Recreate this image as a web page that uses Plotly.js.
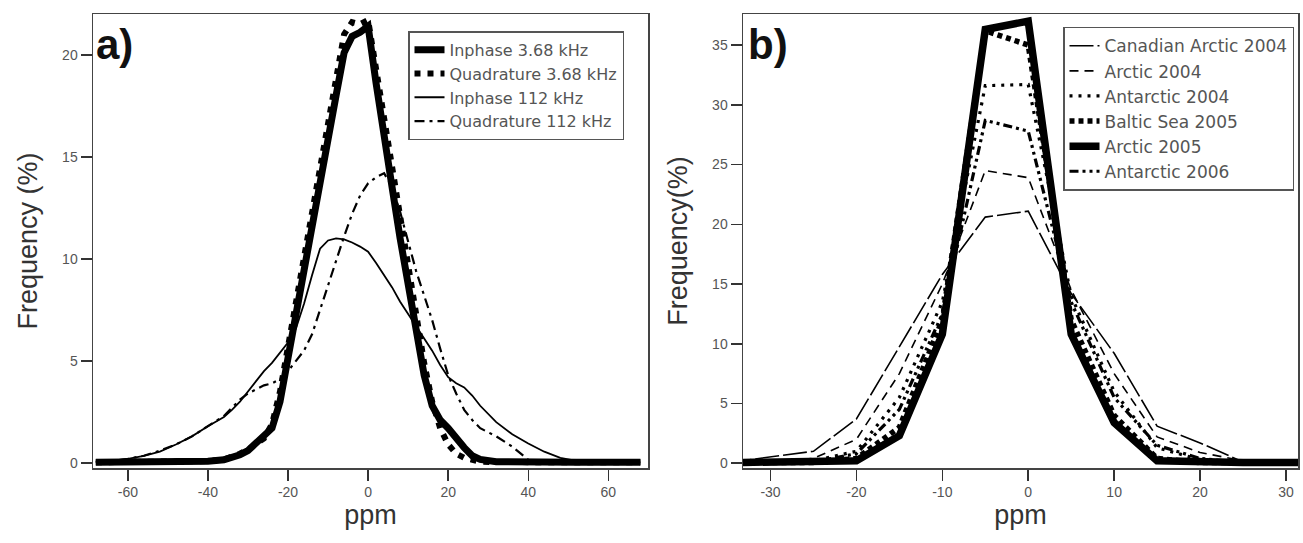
<!DOCTYPE html>
<html>
<head>
<meta charset="utf-8">
<script src="https://cdn.plot.ly/plotly-3.0.1.min.js"></script>
<style>html,body{margin:0;padding:0;background:#fff;}#chart{width:1303px;height:543px;}</style>
</head>
<body>
<div id="chart"></div>
<script>
// ---------- Panel a data (ppm vs frequency %) ----------
const ppmA = [-68,-64,-60,-56,-52,-48,-44,-40,-36,
  -34,-32,-30,-28,-26,-24,-22,-20,-18,-16,-14,-12,-10,-8,-6,-4,-2,0,2,4,6,8,10,12,14,16,18,20,22,24,26,28,
  32,36,40,44,48,52,56,60,64,68];
const inphase368 = [0.03,0.03,0.03,0.03,0.04,0.05,0.06,0.08,0.15,
  0.25,0.4,0.6,0.95,1.25,1.7,3.0,5.2,7.3,9.5,11.6,13.8,15.9,18.0,20.1,20.9,21.1,21.4,18.6,15.8,13.5,11.0,8.8,6.7,4.3,2.8,2.1,1.7,1.2,0.75,0.35,0.17,
  0.06,0.04,0.03,0.03,0.03,0.03,0.03,0.03,0.03,0.03];
const quad368 = [0.03,0.03,0.03,0.03,0.04,0.05,0.06,0.09,0.17,
  0.3,0.45,0.65,0.9,1.2,1.9,3.5,5.7,7.9,10.1,12.2,14.3,16.4,18.5,21.0,21.6,21.5,21.7,19.2,16.7,14.4,12.1,9.7,7.3,4.9,3.0,1.7,0.9,0.45,0.25,0.12,0.06,
  0.04,0.03,0.03,0.03,0.03,0.03,0.03,0.03,0.03,0.03];
const inphase112 = [0.05,0.1,0.2,0.35,0.55,0.9,1.3,1.8,2.25,
  2.6,3.0,3.5,4.0,4.5,4.9,5.4,5.9,6.6,7.8,9.2,10.5,10.9,11.0,10.95,10.8,10.6,10.35,9.8,9.2,8.6,7.9,7.3,6.7,6.1,5.5,4.8,4.2,3.9,3.7,3.3,2.8,
  2.0,1.4,0.95,0.55,0.25,0.1,0.05,0.04,0.03,0.03];
const quad112 = [0.05,0.1,0.2,0.35,0.6,0.9,1.3,1.8,2.3,
  2.7,3.1,3.4,3.6,3.8,3.9,4.1,4.5,5.0,5.5,6.3,7.5,8.8,10.0,11.1,12.2,13.1,13.7,14.0,14.2,13.5,12.3,10.9,9.4,8.2,7.0,5.6,4.3,3.4,2.6,2.1,1.7,
  1.3,0.8,0.15,0.06,0.04,0.03,0.03,0.03,0.03,0.03];
const namesA = ["Inphase 3.68 kHz","Quadrature 3.68 kHz","Inphase 112 kHz","Quadrature 112 kHz"];

// ---------- Panel b data ----------
const ppmB = [-35,-30,-25,-20,-15,-10,-5,0,5,10,15,20,25,30,35];
const canadian04 = [0.05,0.5,1.0,3.7,9.8,15.8,20.6,21.1,14.2,9.2,3.1,1.7,0.1,0.05,0.05];
const arctic04   = [0.05,0.15,0.4,2.0,7.5,15.0,24.5,23.9,14.5,7.5,2.2,0.9,0.2,0.05,0.05];
const antarctic04= [0.05,0.05,0.2,1.0,5.5,13.5,31.6,31.7,14.0,6.0,1.3,0.3,0.05,0.05,0.05];
const baltic05   = [0.05,0.05,0.05,0.4,3.0,12.0,36.2,35.0,12.0,4.0,0.4,0.05,0.05,0.05,0.05];
const arctic05   = [0.05,0.05,0.05,0.2,2.3,10.8,36.3,37.0,10.8,3.4,0.2,0.05,0.05,0.05,0.05];
const antarctic06= [0.05,0.05,0.1,0.8,4.5,12.5,28.7,27.8,13.5,5.5,1.5,0.4,0.05,0.05,0.05];
const namesB = ["Canadian Arctic 2004","Arctic 2004","Antarctic 2004","Baltic Sea 2005","Arctic 2005","Antarctic 2006"];

// ---------- Tick labels ----------
const xTicksA = [-60,-40,-20,0,20,40,60];
const xTickTextA = ["-60","-40","-20","0","20","40","60"];
const yTicksA = [0,5,10,15,20];
const xTicksB = [-30,-20,-10,0,10,20,30];
const xTickTextB = ["-30","-20","-10","0","10","20","30"];
const yTicksB = [0,5,10,15,20,25,30,35];

const FONT = "Liberation Sans, Arial, sans-serif";
const LFONT = "DejaVu Sans, Verdana, sans-serif";
function ln(x, y, name, w, dash, xa, ya, leg) {
  return {x: x, y: y, name: name, type: "scatter", mode: "lines",
    line: {color: "#000", width: w, dash: dash}, xaxis: xa, yaxis: ya, legend: leg, hoverinfo: "skip"};
}
const traces = [
  ln(ppmA, inphase368, namesA[0], 7, "solid", "x", "y", "legend"),
  ln(ppmA, quad368, namesA[1], 6, "6px,7px", "x", "y", "legend"),
  ln(ppmA, inphase112, namesA[2], 1.8, "solid", "x", "y", "legend"),
  ln(ppmA, quad112, namesA[3], 2.2, "10px,5px,3px,5px", "x", "y", "legend"),
  ln(ppmB, canadian04, namesB[0], 1.6, "24px,4px", "x2", "y2", "legend2"),
  ln(ppmB, arctic04, namesB[1], 1.6, "9px,6px", "x2", "y2", "legend2"),
  ln(ppmB, antarctic04, namesB[2], 3.2, "3px,6px", "x2", "y2", "legend2"),
  ln(ppmB, baltic05, namesB[3], 5.5, "5px,4px", "x2", "y2", "legend2"),
  ln(ppmB, arctic05, namesB[4], 7.5, "solid", "x2", "y2", "legend2"),
  ln(ppmB, antarctic06, namesB[5], 3.2, "9px,4px,3px,4px,3px,4px", "x2", "y2", "legend2")
];

const W = 1303;
const axBase = {showline: true, mirror: true, linecolor: "#444", linewidth: 1.5,
  ticks: "outside", ticklen: 11, tickwidth: 1.5, tickcolor: "#333",
  showgrid: false, zeroline: false, tickfont: {family: FONT, size: 14, color: "#555"}, fixedrange: true};
function ax(extra) { return Object.assign({}, axBase, extra); }
const titleFont = {family: FONT, size: 27, color: "#333"};

const layout = {
  width: 1303, height: 543,
  margin: {l: 0, r: 0, t: 14, b: 75},
  paper_bgcolor: "#fff", plot_bgcolor: "#fff",
  font: {family: FONT, color: "#333"},
  xaxis: ax({domain: [93/W, 648/W], range: [-68.7, 69.9], tickmode: "array", tickvals: xTicksA, ticktext: xTickTextA,
    title: {text: "ppm", font: titleFont, standoff: 2}, anchor: "y"}),
  yaxis: ax({domain: [0, 1], range: [-0.25, 22.0], tickmode: "array", tickvals: yTicksA,
    title: {text: "Frequency (%)", font: titleFont, standoff: 16}, anchor: "x"}),
  xaxis2: ax({domain: [743/W, 1298/W], range: [-33.2, 31.4], tickmode: "array", tickvals: xTicksB, ticktext: xTickTextB,
    title: {text: "ppm", font: titleFont, standoff: 2}, anchor: "y2"}),
  yaxis2: ax({domain: [0, 1], range: [-0.4, 37.6], tickmode: "array", tickvals: yTicksB,
    title: {text: "Frequency(%)", font: titleFont, standoff: 16}, anchor: "x2"}),
  legend: {x: 408/W, y: 0.962, xanchor: "left", yanchor: "top", bgcolor: "#fff", bordercolor: "#555", borderwidth: 1.5,
    font: {family: LFONT, size: 16, color: "#555"}, tracegroupgap: 0},
  legend2: {x: 1063/W, y: 0.972, xanchor: "left", yanchor: "top", bgcolor: "#fff", bordercolor: "#555", borderwidth: 1.5,
    font: {family: LFONT, size: 17, color: "#555"}, tracegroupgap: 0},
  showlegend: true,
  annotations: [
    {text: "<b>a)</b>", xref: "paper", yref: "paper", x: 94/W, y: 0.99, xanchor: "left", yanchor: "top", showarrow: false,
      font: {family: FONT, size: 42, color: "#111"}},
    {text: "<b>b)</b>", xref: "paper", yref: "paper", x: 746/W, y: 0.99, xanchor: "left", yanchor: "top", showarrow: false,
      font: {family: FONT, size: 42, color: "#111"}}
  ]
};

Plotly.newPlot("chart", traces, layout, {staticPlot: true, displayModeBar: false});
</script>
</body>
</html>
